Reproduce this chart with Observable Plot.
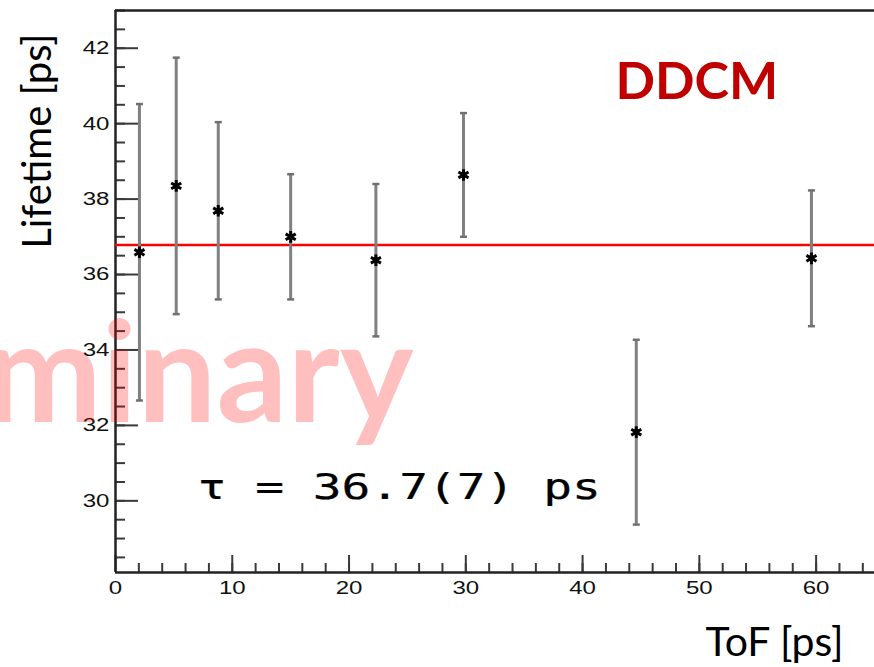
<!DOCTYPE html>
<html><head><meta charset="utf-8">
<script src="https://cdn.jsdelivr.net/npm/d3@7"></script>
<script src="https://cdn.jsdelivr.net/npm/@observablehq/plot@0.6"></script>
<style>html,body{margin:0;padding:0;background:#fff;}</style>
</head><body><div id="chart"></div>
<script>
// ---- data ----
const tof = [2.05, 5.2, 8.8, 15.0, 22.3, 29.8, 44.6, 59.6];
const lifetime = [36.59, 38.35, 37.69, 37.0, 36.38, 38.64, 31.82, 36.43];
const lifetimeErr = [3.93, 3.40, 2.35, 1.66, 2.02, 1.64, 2.45, 1.80];
const fitValue = 36.78;
const xDomain = [0, 65];
const yDomain = [28.1, 43.0];
const xMajorTicks = [0, 10, 20, 30, 40, 50, 60];
const xMinorTicks = d3.range(2, 65, 2);
const yMajorTicks = [30, 32, 34, 36, 38, 40, 42];
const yMinorTicks = d3.range(28.5, 43.01, 0.5);
const xTitle = "ToF [ps]";
const yTitle = "Lifetime [ps]";
const tagText = "DDCM";
const resultText = "τ = 36.7(7) ps";
const watermark = "Preliminary";

const W = 874, H = 667, ML = 115, MR = 0, MT = 10, MB = 95;
const frameW = W - ML - MR, frameH = H - MT - MB;

const points = tof.map((x, i) => ({tof: x, lifetime: lifetime[i], err: lifetimeErr[i]}));
const cap = {draw(ctx) { ctx.moveTo(-3.5, 0); ctx.lineTo(3.5, 0); }};
const axisColor = "#222";
const tickColor = "#3a3a3a";

const plot = Plot.plot({
  width: W,
  height: H,
  marginLeft: ML,
  marginRight: MR,
  marginTop: MT,
  marginBottom: MB,
  style: {background: "#fff", overflow: "visible"},
  x: {domain: xDomain},
  y: {domain: yDomain},
  marks: [
    // inward ticks (pixel lengths via insets)
    Plot.tickY(yMinorTicks, {y: d => d, insetRight: frameW - 10, stroke: tickColor, strokeWidth: 2}),
    Plot.tickY(yMajorTicks, {y: d => d, insetRight: frameW - 23, stroke: tickColor, strokeWidth: 2}),
    Plot.tickX(xMinorTicks, {x: d => d, insetTop: frameH - 9, stroke: tickColor, strokeWidth: 2}),
    Plot.tickX(xMajorTicks, {x: d => d, insetTop: frameH - 17, stroke: tickColor, strokeWidth: 2}),
    // tick labels
    Plot.axisY({ticks: yMajorTicks, tickSize: 0, tickPadding: 6, fontSize: 18.5, fontFamily: "Liberation Sans", fill: "#111", label: null}),
    Plot.axisX({ticks: xMajorTicks, tickSize: 0, tickPadding: 8, fontSize: 18.5, fontFamily: "Liberation Sans", fill: "#111", label: null}),
    // frame lines
    Plot.ruleX([xDomain[0]], {stroke: axisColor, strokeWidth: 2.5}),
    Plot.ruleY([yDomain[0]], {stroke: axisColor, strokeWidth: 2.5}),
    Plot.ruleY([yDomain[1]], {stroke: axisColor, strokeWidth: 2.5}),
    // fit line
    Plot.ruleY([fitValue], {stroke: "#ff0000", strokeWidth: 2.5}),
    // error bars
    Plot.ruleX(points, {x: "tof", y1: d => d.lifetime - d.err, y2: d => d.lifetime + d.err, stroke: "#808080", strokeWidth: 3}),
    Plot.dot(points, {x: "tof", y: d => d.lifetime + d.err, symbol: cap, stroke: "#707070", strokeWidth: 2.5, fill: "none"}),
    Plot.dot(points, {x: "tof", y: d => d.lifetime - d.err, symbol: cap, stroke: "#707070", strokeWidth: 2.5, fill: "none"}),
    // markers
    Plot.dot(points, {x: "tof", y: "lifetime", symbol: "asterisk", r: 5.5, stroke: "#000", strokeWidth: 3}),
    Plot.dot(points, {x: "tof", y: "lifetime", symbol: "square", r: 3, fill: "#000", stroke: "none"}),
    // annotations
    Plot.text([resultText], {frameAnchor: "bottom-left", dx: 82, dy: -74, textAnchor: "start", lineAnchor: "bottom",
      fontFamily: "DejaVu Sans Mono", fontSize: 36, fill: "#000", stroke: "#000", strokeWidth: 0.25}),
    Plot.text([tagText], {frameAnchor: "top-left", dx: 500, dy: 88, textAnchor: "start", lineAnchor: "bottom",
      fontFamily: "Lato", fontWeight: "bold", fontSize: 52, fill: "#c00000"}),
    Plot.text([yTitle], {frameAnchor: "top-left", dx: -65, dy: 23, rotate: -90, textAnchor: "end", lineAnchor: "bottom",
      fontFamily: "Lato", fontSize: 40, fill: "#000"}),
    Plot.text([xTitle], {frameAnchor: "bottom-right", dx: -31, dy: 83, textAnchor: "end", lineAnchor: "bottom",
      fontFamily: "Lato", fontSize: 41, fill: "#000"}),
    Plot.text([watermark], {frameAnchor: "top-left", dx: 298, dy: 411, textAnchor: "end", lineAnchor: "bottom",
      fontFamily: "Lato", fontWeight: "bold", fontSize: 140, fill: "#ff0000", fillOpacity: 0.25})
  ]
});

// the ROOT part of the reference is horizontally stretched: widen its texts
function stretch(nodes, sx) {
  nodes.forEach(t => {
    let tr = t.getAttribute("transform");
    if (!tr) {
      tr = `translate(${t.getAttribute("x") || 0},${t.getAttribute("y") || 0})`;
      t.removeAttribute("x"); t.removeAttribute("y");
    }
    t.setAttribute("transform", tr + ` scale(${sx},1)`);
  });
}
stretch(plot.querySelectorAll('g[aria-label="y-axis tick label"] text, g[aria-label="x-axis tick label"] text'), 1.3);
stretch([...plot.querySelectorAll("text")].filter(t => t.textContent === resultText), 1.33);

document.getElementById("chart").append(plot);
</script>
</body></html>
